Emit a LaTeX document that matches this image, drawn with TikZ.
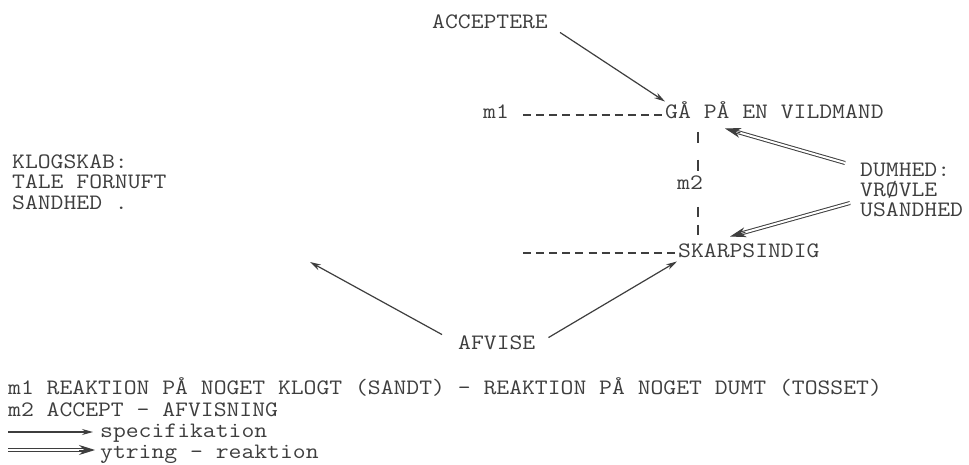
\documentclass[tikz,border=0pt]{standalone}
\usepackage{fontspec}
\usepackage{graphicx}
\usetikzlibrary{arrows.meta,calc}
\definecolor{ink}{RGB}{62,62,62}
\newcommand{\tw}[1]{\scalebox{1.134}[1]{#1}}
\begin{document}
\begin{tikzpicture}[x=1pt,y=-1pt,
  txt/.style={anchor=west, inner sep=0pt, text height=12.5pt, text depth=0pt,
    font=\ttfamily\fontsize{22}{20}\selectfont, text=ink},
  spec/.style={draw=ink, line width=1.2pt, -{Stealth[length=11pt,width=6pt]}},
  dblline/.style={draw=ink, line width=1pt, double=white, double distance=2pt, shorten >=11pt},
  dbltip/.style={draw=ink, line width=1pt, -{Stealth[length=16pt,width=10pt]}},
  hyph/.style={draw=ink, line width=1.1pt, dash pattern=on 8pt off 5.1pt},
  vbar/.style={draw=ink, line width=1.1pt}
]
\fill[white] (0,0) rectangle (969,465);
\path[use as bounding box] (0,0) rectangle (969,465);

% nodes
\node[txt] (acc) at (432,22) {\tw{ACCEPTERE}};
\node[txt] (m1)  at (483,112) {\tw{m1}};
\node[txt] (ga)  at (665,112) {\tw{GÅ PÅ EN VILDMAND}};
\node[txt] (m2)  at (677,183) {\tw{m2}};
\node[txt] (sk)  at (678,251) {\tw{SKARPSINDIG}};
\node[txt] (afv) at (458,343) {\tw{AFVISE}};

\node[txt] (kl1) at (12,162) {\tw{KLOGSKAB:}};
\node[txt] (kl2) at (12,182) {\tw{TALE FORNUFT}};
\node[txt] (kl3) at (12,203) {\tw{SANDHED .}};

\node[txt] (du1) at (860,170) {\tw{DUMHED:}};
\node[txt] (du2) at (860,190) {\tw{VRØVLE}};
\node[txt] (du3) at (860,210) {\tw{USANDHED}};

\node[txt] (lg1) at (8,388) {\tw{m1 REAKTION PÅ NOGET KLOGT (SANDT) - REAKTION PÅ NOGET DUMT (TOSSET)}};
\node[txt] (lg2) at (8,410) {\tw{m2 ACCEPT - AFVISNING}};
\node[txt] (lg3) at (100,431) {\tw{specifikation}};
\node[txt] (lg4) at (100,452) {\tw{ytring - reaktion}};

% free ends
\coordinate (left) at (310,262);
\coordinate (v1) at (698,132);
\coordinate (v2) at (698,172);
\coordinate (v3) at (698,207);
\coordinate (v4) at (698,237);
\coordinate (skl) at (523,253);
\coordinate (l3s) at (8,432);
\coordinate (l4s) at (8,450);

% double-arrow end points
\coordinate (d1a) at ([shift={(-15,-7)}]du1.west);
\coordinate (d1b) at ([shift={(60,10)}]ga.south west);
\coordinate (d2a) at ([shift={(-10,-7)}]du3.west);
\coordinate (d2b) at ([shift={(52,-8)}]sk.north west);
\coordinate (l4b) at ([shift={(-5,-2)}]lg4.west);

% dashed m1 / m2 lines
\draw[hyph] ([shift={(14,3)}]m1.east) -- ([shift={(-1,3)}]ga.west);
\draw[hyph] (skl) -- ([shift={(-1,2)}]sk.west);
\draw[vbar, dash pattern=on 11pt off 17pt] (v1) -- (v2);
\draw[vbar, dash pattern=on 10pt off 8pt] (v3) -- (v4);

% specification arrows
\draw[spec] ([shift={(12,4)}]acc.south east) -- ([shift={(0,-4)}]ga.north west);
\draw[spec] ([shift={(-16,-2)}]afv.north west) -- (left);
\draw[spec] ([shift={(13,1)}]afv.north east) -- ([shift={(-1,4)}]sk.south west);

% utterance - reaction arrows
\draw[dblline] (d1a) -- (d1b);
\draw[dbltip] ($(d1b)!16pt!(d1a)$) -- (d1b);
\draw[dblline] (d2a) -- (d2b);
\draw[dbltip] ($(d2b)!16pt!(d2a)$) -- (d2b);

% legend arrows
\draw[spec] (l3s) -- ([shift={(-7,1)}]lg3.west);
\draw[dblline] (l4s) -- (l4b);
\draw[dbltip] ($(l4b)!16pt!(l4s)$) -- (l4b);
\end{tikzpicture}
\end{document}
